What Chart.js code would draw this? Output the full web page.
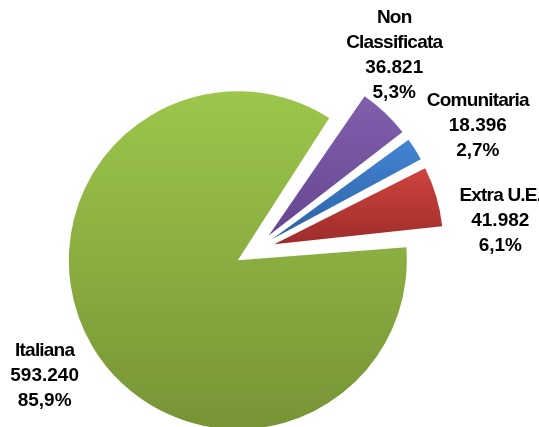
<!DOCTYPE html>
<html><head><meta charset="utf-8">
<script src="https://cdn.jsdelivr.net/npm/chart.js@4.4.0/dist/chart.umd.min.js"></script>
<style>html,body{margin:0;padding:0;background:#fff;overflow:hidden}</style>
</head><body>
<canvas id="c" width="539" height="427"></canvas>
<script>
// ---- data ----
const categories = [['Italiana'], ['Non', 'Classificata'], ['Comunitaria'], ['Extra U.E.']];
const values = [593240, 36821, 18396, 41982];

// ---- styles ----
const colorsTop = ['#9dc64b', '#8060ad', '#4485d5', '#d0443f'];
const colorsBottom = ['#779436', '#674690', '#2b61a4', '#9e2c29'];
const PIE_RADIUS = 149;      // base radius handed to Chart.js
const DRAWN_RADIUS = 169;    // radius every exploded slice should show
const ROTATION = 84.5;
const EXPLODE = 80;
// labels were placed by hand in the original: angular shift from slice middle (deg), distance from pie centre (px)
const labelShift = [0, -7.8, 3.1, 9.7];
const labelDist = [245, 239, 255, 247];
const FONT_FAMILY = '"Liberation Sans", Arial, sans-serif';

const total = values.reduce((a, b) => a + b, 0);
const fmtNum = v => String(v).replace(/\B(?=(\d{3})+(?!\d))/g, '.');
const fmtPct = v => (v / total * 100).toFixed(1).replace('.', ',') + '%';

function sliceGradient(context) {
  const chart = context.chart;
  const area = chart.chartArea;
  if (!area) return colorsTop[context.dataIndex];
  const i = context.dataIndex;
  const cx = (area.left + area.right) / 2, cy = (area.top + area.bottom) / 2;
  let start = -Math.PI / 2 + ROTATION * Math.PI / 180;
  for (let k = 0; k < i; k++) start += values[k] / total * 2 * Math.PI;
  const end = start + values[i] / total * 2 * Math.PI;
  const R = DRAWN_RADIUS;
  const ys = [cy, cy + Math.sin(start) * R, cy + Math.sin(end) * R];
  for (let n = -6; n <= 6; n++) {
    const a = Math.PI / 2 + n * Math.PI;
    if (a >= start && a <= end) ys.push(cy + Math.sin(a) * R);
  }
  const top = Math.min(...ys), bot = Math.max(...ys);
  const g = chart.ctx.createLinearGradient(0, top, 0, bot);
  g.addColorStop(0, colorsTop[i]);
  g.addColorStop(1, colorsBottom[i]);
  return g;
}

// Chart.js enlarges exploded arcs by offset/4 * (1 - sin(circumference));
// Excel keeps all slices at one radius, so compensate per arc.
const equalRadiusPlugin = {
  id: 'equalRadius',
  afterDatasetUpdate(chart, args) {
    const meta = chart.getDatasetMeta(args.index);
    meta.data.forEach(el => {
      const circ = el.endAngle - el.startAngle;
      const fix = 1 - Math.sin(Math.min(Math.PI, circ));
      el.outerRadius = DRAWN_RADIUS - (EXPLODE / 4) * fix;
    });
  }
};

const labelPlugin = {
  id: 'sliceLabels',
  afterDatasetsDraw(chart) {
    const ctx = chart.ctx;
    ctx.save();
    ctx.fillStyle = '#000';
    ctx.textAlign = 'center';
    ctx.textBaseline = 'middle';
    ctx.font = 'bold 19px ' + FONT_FAMILY;
    chart.getDatasetMeta(0).data.forEach((el, i) => {
      const mid = (el.startAngle + el.endAngle) / 2 + labelShift[i] * Math.PI / 180;
      const x = el.x + Math.cos(mid) * labelDist[i];
      const y = el.y + Math.sin(mid) * labelDist[i];
      const lines = [...categories[i].map(t => ({t, name: true})),
                     {t: fmtNum(values[i])}, {t: fmtPct(values[i])}];
      const pitch = 25;
      lines.forEach((ln, k) => {
        ctx.letterSpacing = ln.name ? '-0.8px' : '0px';
        ctx.fillText(ln.t, x, y + (k - (lines.length - 1) / 2) * pitch);
      });
    });
    ctx.restore();
  }
};

new Chart(document.getElementById('c'), {
  type: 'pie',
  data: {
    labels: categories.map(c => c.join(' ')),
    datasets: [{
      data: values,
      backgroundColor: sliceGradient,
      borderWidth: 0,
      offset: EXPLODE,
      rotation: ROTATION
    }]
  },
  options: {
    responsive: false,
    animation: false,
    radius: PIE_RADIUS,
    layout: { padding: { top: 73, right: 29, bottom: 0, left: 0 } },
    plugins: { legend: { display: false }, tooltip: { enabled: false }, title: { display: false } }
  },
  plugins: [equalRadiusPlugin, labelPlugin]
});
</script>
</body></html>
